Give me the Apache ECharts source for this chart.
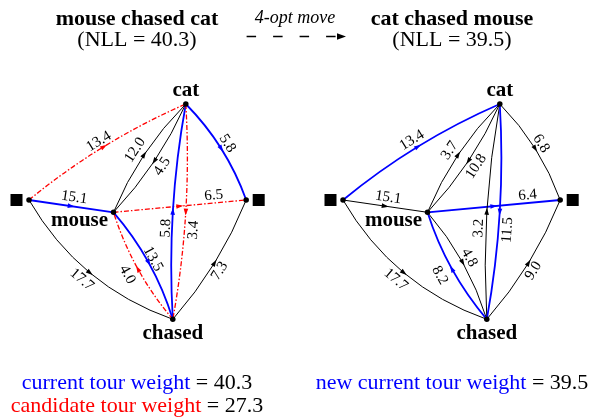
<!DOCTYPE html>
<html>
<head>
<meta charset="utf-8">
<title>4-opt move</title>
<script src="https://cdn.jsdelivr.net/npm/echarts@6.0.0/dist/echarts.min.js"></script>
<style>
  html, body { margin: 0; padding: 0; background: #fff; }
  #chart { width: 590px; height: 419px; }
</style>
</head>
<body>
<div id="chart"></div>
<script>
// word graph nodes (units = pixels of the canvas, left panel)
const nodeNames = ['start', 'mouse', 'cat', 'end', 'chased']
const nodeX = [29, 113.5, 185.8, 246.2, 172.8]
const nodeY = [200, 212.3, 104, 200, 319.3]

// edges, same order in both panels
const edgeFrom = ['start', 'start', 'start', 'mouse', 'cat', 'cat', 'mouse', 'chased', 'cat', 'mouse', 'chased', 'chased']
const edgeTo = ['mouse', 'cat', 'chased', 'cat', 'mouse', 'end', 'end', 'cat', 'chased', 'chased', 'mouse', 'end']

// before the move (left) and after it (right)
const weightsBefore = [15.1, 13.4, 17.7, 12.0, 4.5, 5.8, 6.5, 5.8, 3.4, 13.5, 4.0, 7.3]
const kindsBefore = ['tour', 'cand', 'other', 'other', 'other', 'tour', 'cand', 'tour', 'cand', 'tour', 'cand', 'other']
const weightsAfter = [15.1, 13.4, 17.7, 3.7, 10.8, 6.8, 6.4, 3.2, 11.5, 4.8, 8.2, 9.0]
const kindsAfter = ['other', 'tour', 'other', 'other', 'other', 'other', 'tour', 'other', 'tour', 'other', 'tour', 'other']

const titles = ['mouse chased cat', 'cat chased mouse']
const nll = [40.3, 39.5]
const tourWeights = [40.3, 39.5]
const candidateWeight = 27.3

// layout
const panelShift = [0, 314]
const panelCenter = [137, 452]
const bend = [0, 0.07, -0.184, 0.1, 0.085, 0.11, 0, 0.06, 0.06, 0.105, 0.1, -0.086]
const labelT = [0.52, 0.49, 0.49, 0.49, 0.5, 0.49, 0.76, 0.42, 0.58, 0.49, 0.5, 0.47]
const labelDist = [
  [9, 7, -10.5, 10, 9.5, 8, 7.5, 6, 9, 5.5, 12, -8.5],
  [9, 8.5, -10.4, 9.4, 9.5, 7.7, 7.7, 7.3, 9, 8, 13.7, -8.2]
]
const nodeLabelOffset = { mouse: [-34, 8], cat: [0, -13], chased: [0, 14] }

const BLUE = '#0000ff'
const RED = '#ff0000'
const SERIF = '"Liberation Serif", "Times New Roman", serif'
const edgeStyle = {
  tour: { stroke: BLUE, lineWidth: 1.8, lineDash: null },
  cand: { stroke: RED, lineWidth: 1.3, lineDash: [5, 2, 1.5, 2] },
  other: { stroke: '#000', lineWidth: 1, lineDash: null }
}

const idx = name => nodeNames.indexOf(name)

function edgeSeries(panel, weights, kinds) {
  const shift = panelShift[panel]
  const data = edgeFrom.map((f, i) => {
    const a = idx(f)
    const b = idx(edgeTo[i])
    return [nodeX[a] + shift, nodeY[a], nodeX[b] + shift, nodeY[b], i, weights[i]]
  })
  return {
    type: 'custom',
    coordinateSystem: 'cartesian2d',
    data,
    z: 2,
    renderItem(params, api) {
      const p0 = api.coord([api.value(0), api.value(1)])
      const p1 = api.coord([api.value(2), api.value(3)])
      const i = api.value(4)
      const st = edgeStyle[kinds[i]]
      const dx = p1[0] - p0[0]
      const dy = p1[1] - p0[1]
      const len = Math.hypot(dx, dy)
      const h = bend[i] * len
      const c = [(p0[0] + p1[0]) / 2 + dy / len * h, (p0[1] + p1[1]) / 2 - dx / len * h]
      const at = t => [
        (1 - t) * (1 - t) * p0[0] + 2 * (1 - t) * t * c[0] + t * t * p1[0],
        (1 - t) * (1 - t) * p0[1] + 2 * (1 - t) * t * c[1] + t * t * p1[1]
      ]
      const dir = t => {
        const vx = 2 * (1 - t) * (c[0] - p0[0]) + 2 * t * (p1[0] - c[0])
        const vy = 2 * (1 - t) * (c[1] - p0[1]) + 2 * t * (p1[1] - c[1])
        const l = Math.hypot(vx, vy)
        return [vx / l, vy / l]
      }
      // arrow head in the middle
      const m = at(0.5)
      const u = dir(0.5)
      const tip = [m[0] + u[0] * 3.5, m[1] + u[1] * 3.5]
      const bx = m[0] - u[0] * 3.5
      const by = m[1] - u[1] * 3.5
      const head = [tip, [bx + u[1] * 2.3, by - u[0] * 2.3], [bx - u[1] * 2.3, by + u[0] * 2.3]]
      // weight label along the edge
      const lt = labelT[i]
      const lp = at(lt)
      const lu = dir(lt)
      const d = labelDist[panel][i]
      let ang = Math.atan2(lu[1], lu[0])
      if (ang > Math.PI / 2) ang -= Math.PI
      if (ang <= -Math.PI / 2) ang += Math.PI
      return {
        type: 'group',
        children: [
          {
            type: 'bezierCurve',
            shape: { x1: p0[0], y1: p0[1], x2: p1[0], y2: p1[1], cpx1: c[0], cpy1: c[1] },
            style: { stroke: st.stroke, lineWidth: st.lineWidth, lineDash: st.lineDash, fill: null }
          },
          {
            type: 'polygon',
            shape: { points: head },
            style: { fill: st.stroke }
          },
          {
            type: 'text',
            x: lp[0] + lu[1] * d,
            y: lp[1] - lu[0] * d,
            rotation: -ang,
            style: {
              text: api.value(5).toFixed(1),
              font: '15px ' + SERIF,
              fill: '#000',
              align: 'center',
              verticalAlign: 'middle'
            }
          }
        ]
      }
    }
  }
}

const nodeData = []
const endData = []
panelShift.forEach(shift => {
  nodeNames.forEach((name, k) => {
    const off = nodeLabelOffset[name]
    nodeData.push({
      value: [nodeX[k] + shift, nodeY[k]],
      label: off
        ? { show: true, formatter: name, offset: off, color: '#000', textBorderWidth: 0 }
        : { show: false }
    })
    if (!off) {
      endData.push({ value: [nodeX[k] + shift, nodeY[k]], symbolOffset: [name === 'start' ? -12.5 : 12.5, 0] })
    }
  })
})

const chart = echarts.init(document.getElementById('chart'))

const headerText = []
titles.forEach((t, p) => {
  headerText.push({
    type: 'text', x: panelCenter[p], y: 19.5,
    style: { text: t, font: 'bold 22px ' + SERIF, fill: '#000', align: 'center', verticalAlign: 'middle' }
  })
  headerText.push({
    type: 'text', x: panelCenter[p], y: 40,
    style: { text: '(NLL = ' + nll[p].toFixed(1) + ')', font: '22px ' + SERIF, fill: '#000', align: 'center', verticalAlign: 'middle' }
  })
})

const footRich = color => ({ c: { fill: color, font: '22px ' + SERIF } })
const footStyle = { font: '22px ' + SERIF, fill: '#000', align: 'center', verticalAlign: 'middle' }

chart.setOption({
  animation: false,
  backgroundColor: '#fff',
  grid: { left: 0, right: 0, top: 0, bottom: 0 },
  xAxis: { type: 'value', min: 0, max: 590, show: false },
  yAxis: { type: 'value', min: 0, max: 419, inverse: true, show: false },
  graphic: [
    ...headerText,
    {
      type: 'text', x: 295, y: 18,
      style: { text: '4-opt move', font: 'italic 18px ' + SERIF, fill: '#000', align: 'center', verticalAlign: 'middle' }
    },
    {
      type: 'line',
      shape: { x1: 246.6, y1: 36.5, x2: 338, y2: 36.5 },
      style: { stroke: '#000', lineWidth: 1.5, lineDash: [9.5, 17] }
    },
    {
      type: 'polygon',
      shape: { points: [[346, 36.5], [337, 33.3], [337, 39.7]] },
      style: { fill: '#000' }
    },
    {
      type: 'text', x: panelCenter[0], y: 383,
      style: Object.assign({ text: '{c|current tour weight} = ' + tourWeights[0].toFixed(1), rich: footRich(BLUE) }, footStyle)
    },
    {
      type: 'text', x: panelCenter[0], y: 406,
      style: Object.assign({ text: '{c|candidate tour weight} = ' + candidateWeight.toFixed(1), rich: footRich(RED) }, footStyle)
    },
    {
      type: 'text', x: panelCenter[1], y: 383,
      style: Object.assign({ text: '{c|new current tour weight} = ' + tourWeights[1].toFixed(1), rich: footRich(BLUE) }, footStyle)
    }
  ],
  series: [
    edgeSeries(0, weightsBefore, kindsBefore),
    edgeSeries(1, weightsAfter, kindsAfter),
    {
      type: 'scatter',
      z: 3,
      data: nodeData,
      symbol: 'circle',
      symbolSize: 5.5,
      itemStyle: { color: '#000', opacity: 1 },
      label: {
        position: 'inside',
        color: '#000',
        textBorderWidth: 0,
        fontFamily: SERIF,
        fontWeight: 'bold',
        fontSize: 21
      }
    },
    {
      type: 'scatter',
      z: 3,
      data: endData,
      symbol: 'rect',
      symbolSize: 12,
      itemStyle: { color: '#000', opacity: 1 }
    }
  ]
})
</script>
</body>
</html>
